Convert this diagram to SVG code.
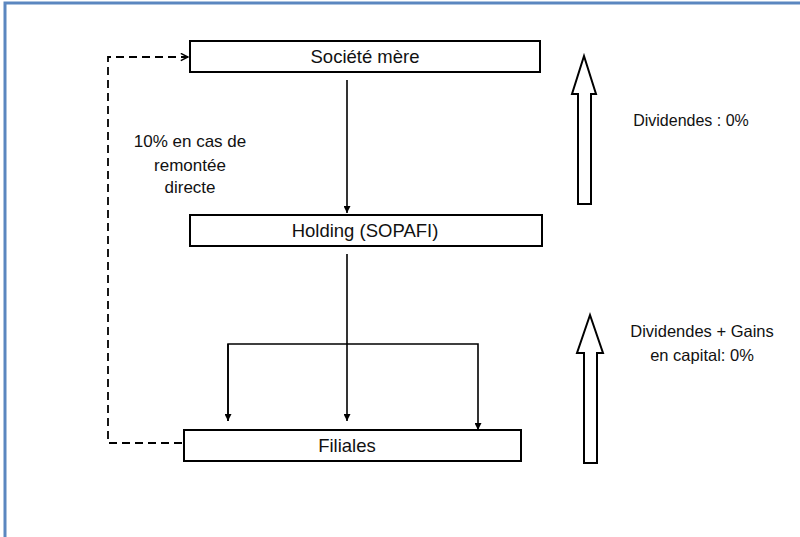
<svg xmlns="http://www.w3.org/2000/svg" width="800" height="537" viewBox="0 0 800 537">
  <defs>
    <style>
      .box { fill: #ffffff; stroke: #000000; stroke-width: 2; }
      .lbl { font-family: "Liberation Sans", Arial, sans-serif; fill: #111111; text-anchor: middle; }
      .conn { fill: none; stroke: #000000; stroke-width: 1.6; }
      .dash { fill: none; stroke: #000000; stroke-width: 1.8; stroke-dasharray: 8 5; }
      .flow { fill: #ffffff; stroke: #000000; stroke-width: 2; stroke-linejoin: miter; }
    </style>
    <marker id="tri" viewBox="0 0 10 10" refX="10" refY="5" markerWidth="7" markerHeight="7" markerUnits="userSpaceOnUse" orient="auto">
      <path d="M0,0 L10,5 L0,10 Z" fill="#000000"/>
    </marker>
    <marker id="open" viewBox="0 0 10 10" refX="9" refY="5" markerWidth="9" markerHeight="9" markerUnits="userSpaceOnUse" orient="auto">
      <path d="M1,1 L9,5 L1,9" fill="none" stroke="#000000" stroke-width="1.7"/>
    </marker>
  </defs>

  <!-- page frame -->
  <rect x="5" y="3" width="800" height="540" fill="#ffffff" stroke="#5b87c0" stroke-width="3"/>

  <!-- connectors -->
  <g id="connectors">
    <line class="conn" x1="347" y1="80" x2="347" y2="213" marker-end="url(#tri)"/>
    <line class="conn" x1="347" y1="254" x2="347" y2="421" marker-end="url(#tri)"/>
    <polyline class="conn" points="228,421 228,344 478,344 478,430" marker-end="url(#tri)"/>
    <line class="conn" x1="228" y1="344" x2="228" y2="421" marker-end="url(#tri)"/>
    <polyline class="dash" points="182,443 108,443 108,57 188,57" marker-end="url(#open)"/>
  </g>

  <!-- company boxes -->
  <g id="societe-mere">
    <rect class="box" x="190" y="41" width="350" height="31"/>
    <text class="lbl" x="365" y="63" font-size="18.5">Société mère</text>
  </g>
  <g id="holding">
    <rect class="box" x="190" y="215" width="352" height="31"/>
    <text class="lbl" x="365" y="237" font-size="18.5">Holding (SOPAFI)</text>
  </g>
  <g id="filiales">
    <rect class="box" x="184" y="430" width="337" height="31"/>
    <text class="lbl" x="347" y="452" font-size="18.5">Filiales</text>
  </g>

  <!-- side note on the dashed path -->
  <g id="note-remontee">
    <text class="lbl" x="190" y="147" font-size="17">10% en cas de</text>
    <text class="lbl" x="190" y="171" font-size="17">remontée</text>
    <text class="lbl" x="190" y="193" font-size="17">directe</text>
  </g>

  <!-- upward flow arrows with tax rates -->
  <g id="flow-dividendes">
    <path class="flow" d="M584,56 L596,94 L591,94 L591,204 L578,204 L578,94 L572,94 Z"/>
    <text class="lbl" x="691" y="126" font-size="16">Dividendes : 0%</text>
  </g>
  <g id="flow-gains">
    <path class="flow" d="M590,315 L603,353 L597,353 L597,463 L584,463 L584,353 L577,353 Z"/>
    <text class="lbl" x="702" y="337" font-size="16.5">Dividendes + Gains</text>
    <text class="lbl" x="702" y="361" font-size="16.5">en capital: 0%</text>
  </g>
</svg>
